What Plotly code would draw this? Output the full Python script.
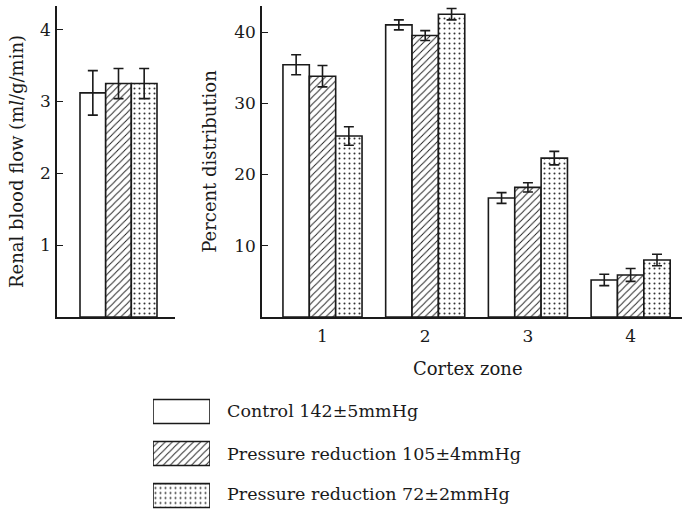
import plotly.graph_objects as go

W, H = 682, 509

# ---- data ----
series_names = ["Control 142±5mmHg", "Pressure reduction 105±4mmHg", "Pressure reduction 72±2mmHg"]
rbf_category = [""]
rbf_mean = [3.12, 3.25, 3.25]
rbf_err = [0.31, 0.21, 0.21]

zones = ["1", "2", "3", "4"]
control_pct = [35.4, 41.0, 16.7, 5.2]
control_err = [1.4, 0.7, 0.75, 0.8]
red105_pct = [33.8, 39.5, 18.2, 5.9]
red105_err = [1.5, 0.7, 0.65, 0.9]
red72_pct = [25.4, 42.5, 22.3, 8.0]
red72_err = [1.3, 0.8, 0.95, 0.8]

left_ticks = [1, 2, 3, 4]
right_ticks = [10, 20, 30, 40]

FONT = "DejaVu Serif"
INK = "#1a1a1a"

patterns = [
    dict(shape="", fillmode="overlay"),
    dict(shape="/", size=5, solidity=0.18, fgcolor=INK, bgcolor="white", fillmode="replace"),
    dict(shape=".", size=5, solidity=0.13, fgcolor="#333333", bgcolor="white", fillmode="replace"),
]

def px(x):
    return x / W

def py(y):
    return 1 - y / H

fig = go.Figure()

right_vals = [control_pct, red105_pct, red72_pct]
right_errs = [control_err, red105_err, red72_err]

for i in range(3):
    marker = dict(color="white", line=dict(color=INK, width=1.6), pattern=patterns[i])
    fig.add_trace(go.Bar(
        x=rbf_category, y=[rbf_mean[i]], xaxis="x", yaxis="y",
        marker=marker, showlegend=False, offsetgroup=str(i),
        error_y=dict(type="data", array=[rbf_err[i]], color=INK, thickness=1.6, width=5),
    ))
    fig.add_trace(go.Bar(
        x=zones, y=right_vals[i], xaxis="x2", yaxis="y2",
        marker=marker, showlegend=False, offsetgroup=str(i),
        error_y=dict(type="data", array=right_errs[i], color=INK, thickness=1.6, width=5),
    ))
    # legend swatch
    fig.add_trace(go.Bar(
        x=[1], y=[i], orientation="h", xaxis="x3", yaxis="y3", width=0.57,
        marker=marker, showlegend=False,
    ))

# legend texts
legend_y = [411, 454, 494]
for i, name in enumerate(series_names):
    fig.add_annotation(x=px(225), y=py(legend_y[i]), xref="paper", yref="paper",
                       text=name, showarrow=False, xanchor="left", yanchor="middle",
                       font=dict(family=FONT, size=17.5, color=INK))

fig.add_annotation(x=px(468), y=py(368), xref="paper", yref="paper",
                   text="Cortex zone", showarrow=False, xanchor="center", yanchor="middle",
                   font=dict(family=FONT, size=18, color=INK))

axis_common = dict(showgrid=False, zeroline=False, showline=True, linecolor=INK, linewidth=1.6,
                   tickfont=dict(family=FONT, size=17, color=INK))

plot_dom = [py(317), py(6)]

fig.update_layout(
    width=W, height=H,
    margin=dict(l=0, r=0, t=0, b=0),
    paper_bgcolor="white", plot_bgcolor="white",
    barmode="group", bargap=0.23, bargroupgap=0,
    showlegend=False,
    xaxis=dict(domain=[px(57), px(175)], type="category", range=[-0.615, 0.565],
               showticklabels=False, ticks="", anchor="y", **axis_common),
    yaxis=dict(domain=plot_dom, range=[0, 4.33], tickvals=left_ticks, ticks="inside", ticklen=6,
               tickwidth=1.4, tickcolor=INK, ticklabelstandoff=1, anchor="x",
               title=dict(text="Renal blood flow (m<i>l</i>/g/min)", font=dict(family=FONT, size=18, color=INK),
                          standoff=12),
               **axis_common),
    xaxis2=dict(domain=[px(262), 1.0], type="category", range=[-0.589, 3.5],
                ticks="", ticklabelstandoff=3, anchor="y2", **axis_common),
    yaxis2=dict(domain=plot_dom, range=[0, 43.65], tickvals=right_ticks, ticks="inside", ticklen=6,
                tickwidth=1.4, tickcolor=INK, anchor="x2", ticklabelstandoff=1,
                title=dict(text="Percent distribution", font=dict(family=FONT, size=18, color=INK),
                           standoff=13),
                **axis_common),
    xaxis3=dict(domain=[px(153), px(210)], range=[0, 1], visible=False, anchor="y3"),
    yaxis3=dict(domain=[0, py(390.5)], range=[2.32, -0.5], visible=False, anchor="x3"),
)

fig.write_html("out.html")
